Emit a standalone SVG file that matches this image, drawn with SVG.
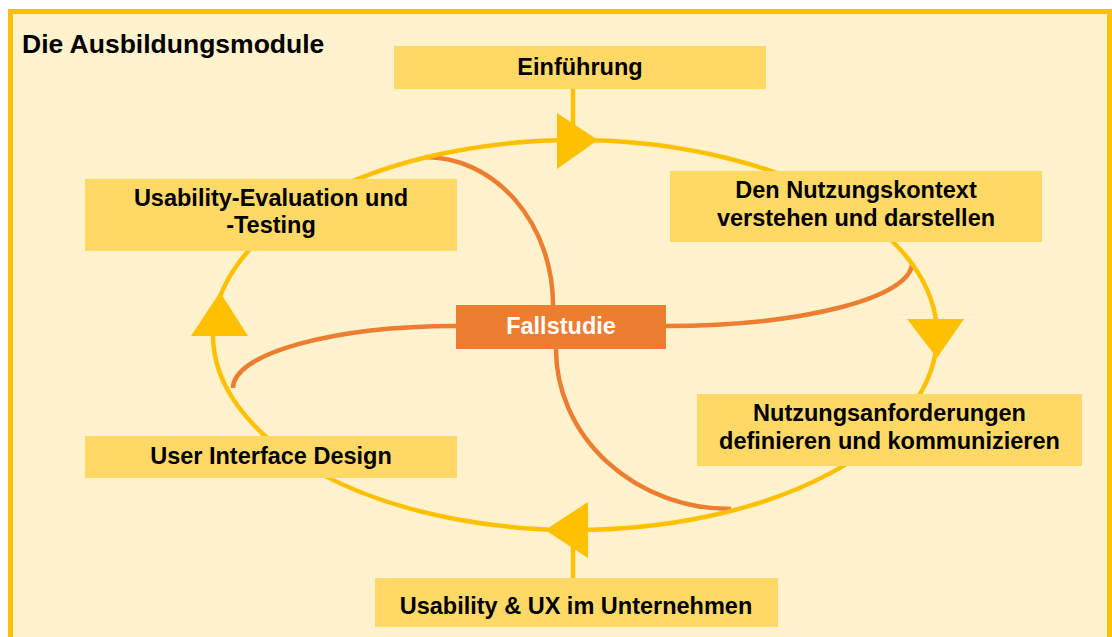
<svg xmlns="http://www.w3.org/2000/svg" width="1112" height="637" viewBox="0 0 1112 637">
<style>
.box{fill:#FFD966}
.t{font-family:"Liberation Sans",Arial,sans-serif;font-weight:bold;font-size:23.5px;fill:#000;text-anchor:middle}
.o{fill:none;stroke:#ED7D31;stroke-width:4.5}
.y{fill:none;stroke:#FFC000;stroke-width:4.5}
.ah{fill:#FFC000}
</style>
<rect x="0" y="0" width="1112" height="637" fill="#FFFFFF"/>
<rect x="10.5" y="11.5" width="1099" height="700" fill="#FFF2CC" stroke="#FFC000" stroke-width="5"/>
<text x="22" y="53" style="font-family:'Liberation Sans',Arial,sans-serif;font-weight:bold;font-size:26.5px;fill:#000">Die Ausbildungsmodule</text>
<g id="connectors">
<path class="o" d="M 553 305 A 128 148 0 0 0 425 157"/>
<path class="o" d="M 556 349 A 175 160 0 0 0 731 509"/>
<path class="o" d="M 666 326 A 246 63 0 0 0 912 263"/>
<path class="o" d="M 456 326 A 223 62 0 0 0 233 388"/>
<ellipse class="y" cx="575" cy="335" rx="362" ry="195"/>
<line class="y" x1="573" y1="89" x2="573" y2="140"/>
<line class="y" x1="573" y1="530" x2="573" y2="578"/>
<polygon class="ah" points="557,113 557,169 598,140"/>
<polygon class="ah" points="907,319 964,319 937,358"/>
<polygon class="ah" points="588,502 588,558 545,530"/>
<polygon class="ah" points="191,336 248,336 220,292"/>
</g>
<g id="einfuehrung">
<rect class="box" x="394" y="46" width="372" height="43"/>
<text class="t" x="580" y="75">Einführung</text>
</g>
<g id="nutzungskontext">
<rect class="box" x="670" y="171" width="372" height="71"/>
<text class="t" x="856" y="198">Den Nutzungskontext</text>
<text class="t" x="856" y="226">verstehen und darstellen</text>
</g>
<g id="nutzungsanforderungen">
<rect class="box" x="697" y="394" width="385" height="72"/>
<text class="t" x="889.5" y="421">Nutzungsanforderungen</text>
<text class="t" x="889.5" y="449">definieren und kommunizieren</text>
</g>
<g id="usability-ux">
<rect class="box" x="375" y="578" width="403" height="49"/>
<text class="t" x="576" y="614">Usability &amp; UX im Unternehmen</text>
</g>
<g id="user-interface-design">
<rect class="box" x="85" y="436" width="372" height="42"/>
<text class="t" x="271" y="464">User Interface Design</text>
</g>
<g id="usability-evaluation">
<rect class="box" x="85" y="179" width="372" height="72"/>
<text class="t" x="271" y="206">Usability-Evaluation und</text>
<text class="t" x="271" y="233">-Testing</text>
</g>
<g id="fallstudie">
<rect x="456" y="305" width="210" height="44" fill="#ED7D31"/>
<text class="t" x="561" y="334" style="fill:#FFFFFF">Fallstudie</text>
</g>
</svg>
